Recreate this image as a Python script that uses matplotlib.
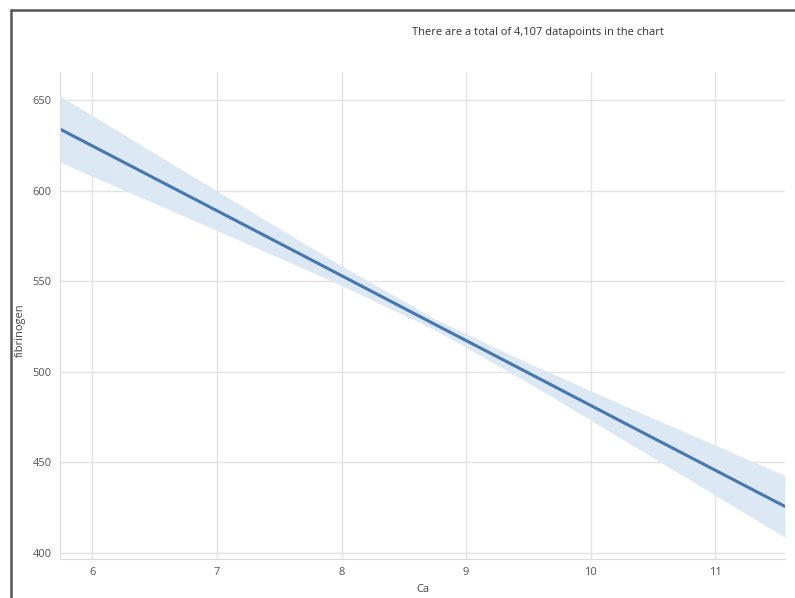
import matplotlib.pyplot as plt
import seaborn as sns
from matplotlib.lines import Line2D

# values
ca = [5.74, 6.5, 7.25, 8.0, 8.75, 9.5, 10.25, 11.0, 11.56]
fit = [634.0, 606.8, 580.0, 553.1, 526.2, 499.4, 472.5, 445.7, 425.7]
ci_low = [615.7, 593.0, 570.5, 547.7, 523.2, 494.0, 463.0, 431.9, 408.6]
ci_high = [652.3, 620.6, 589.5, 558.5, 529.2, 504.8, 482.0, 459.5, 442.8]
x_ticks = [6, 7, 8, 9, 10, 11]
y_ticks = [400, 450, 500, 550, 600, 650]
n_points = 4107

sns.set_style('whitegrid')
plt.rcParams['font.family'] = ['Open Sans', 'DejaVu Sans']

fig = plt.figure(figsize=(7.95, 5.98), dpi=100)
ax = fig.add_axes([60 / 795, 39 / 598, 725 / 795, 487 / 598])

line_color = '#4777b0'
ax.fill_between(ca, ci_low, ci_high, color='#dce8f4', linewidth=0)
ax.plot(ca, fit, color=line_color, linewidth=2.2)

ax.set_xlim(5.74, 11.56)
ax.set_ylim(396.7, 665.5)
ax.set_xticks(x_ticks)
ax.set_yticks(y_ticks)
ax.tick_params(labelsize=8, colors='#555555', length=0, pad=6)
ax.grid(color='#e3e3e3', linewidth=1)
for side in ['top', 'right']:
    ax.spines[side].set_visible(False)
for side in ['left', 'bottom']:
    ax.spines[side].set_color('#dddddd')

ax.set_xlabel('Ca', fontsize=8, color='#444444', labelpad=4)
ax.set_ylabel('fibrinogen', fontsize=8, color='#444444')
ax.yaxis.set_label_coords(-0.047, 0.47)

fig.text(412 / 795, 1 - 33 / 598, f'There are a total of {n_points:,} datapoints in the chart',
         fontsize=8, color='#333333', ha='left', va='center')

# screenshot frame
fig.add_artist(Line2D([11 / 795, 1], [1 - 10 / 598, 1 - 10 / 598], color='#555555', linewidth=1.8,
                      transform=fig.transFigure))
fig.add_artist(Line2D([11 / 795, 11 / 795], [0, 1 - 10 / 598], color='#555555', linewidth=1.8,
                      transform=fig.transFigure))

fig.savefig('out.png', dpi=100)
